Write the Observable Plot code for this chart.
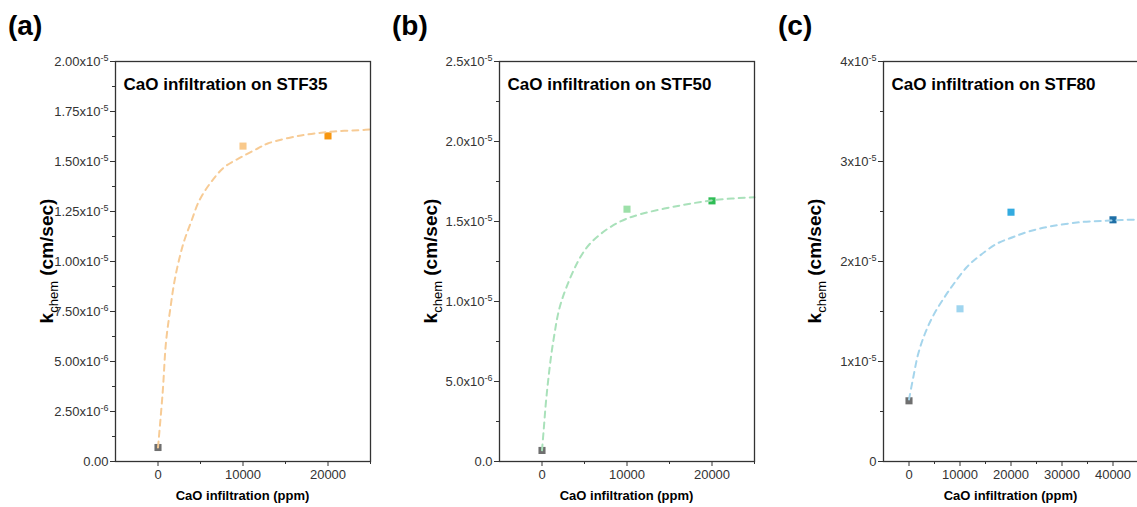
<!DOCTYPE html>
<html><head><meta charset="utf-8">
<script src="https://cdn.jsdelivr.net/npm/d3@7"></script>
<script src="https://cdn.jsdelivr.net/npm/@observablehq/plot@0.6"></script>
<style>
html,body{margin:0;padding:0;background:#fff;overflow:hidden;}
#wrap{position:relative;width:1137px;height:507px;overflow:hidden;font-family:"Liberation Sans",Arial,sans-serif;}
.panel{position:absolute;top:0;}
.panel svg{max-width:none !important;}
.plabel{position:absolute;top:10px;font-size:28px;font-weight:bold;color:#000;font-family:"Liberation Sans",Arial,sans-serif;}
</style></head><body><div id="wrap"></div>
<script>
// ---------- DATA ----------
const titles = ["CaO infiltration on STF35", "CaO infiltration on STF50", "CaO infiltration on STF80"];
const panelLetters = ["(a)", "(b)", "(c)"];
const xLabel = "CaO infiltration (ppm)";

// measured points (CaO ppm, k_chem cm/sec)
const ptsAx = [0, 10000, 20000];
const ptsAy = [0.07e-5, 1.577e-5, 1.628e-5];
const ptsBx = [0, 10000, 20000];
const ptsBy = [0.069e-5, 1.577e-5, 1.629e-5];
const ptsCx = [0, 10000, 20000, 40000];
const ptsCy = [0.607e-5, 1.527e-5, 2.493e-5, 2.417e-5];

// fitted dashed curves
const fitAx = [0, 553, 941, 1447, 1918, 2506, 3094, 3882, 4859, 6235, 7800, 9765, 11729, 12906, 16824, 20706, 24235, 25000];
const fitAy = [0.07e-5, 0.3465e-5, 0.5965e-5, 0.7635e-5, 0.8965e-5, 1.0135e-5, 1.105e-5, 1.1965e-5, 1.305e-5, 1.3965e-5, 1.4715e-5, 1.5215e-5, 1.565e-5, 1.59e-5, 1.63e-5, 1.65e-5, 1.658e-5, 1.66e-5];
const fitBx = [0, 188, 553, 1341, 2318, 4894, 6860, 9212, 11565, 16270, 20500, 25000];
const fitBy = [0.07e-5, 0.19e-5, 0.42e-5, 0.756e-5, 1.006e-5, 1.31e-5, 1.42e-5, 1.5e-5, 1.545e-5, 1.6e-5, 1.635e-5, 1.652e-5];
const fitCx = [0, 843, 1824, 3137, 4765, 6725, 8686, 11314, 13922, 17196, 20451, 23500, 27647, 33529, 39412, 45000];
const fitCy = [0.62e-5, 0.843e-5, 1.08e-5, 1.28e-5, 1.46e-5, 1.625e-5, 1.77e-5, 1.943e-5, 2.06e-5, 2.177e-5, 2.245e-5, 2.3e-5, 2.35e-5, 2.393e-5, 2.41e-5, 2.42e-5];

// ticks
const xTicksAB = [0, 10000, 20000];
const xMinorAB = [5000, 15000, 25000];
const xTicksC = [0, 10000, 20000, 30000, 40000];
const xMinorC = [5000, 15000, 25000, 35000];
const yTicksA = [0, 0.25e-5, 0.5e-5, 0.75e-5, 1e-5, 1.25e-5, 1.5e-5, 1.75e-5, 2e-5];
const yLabelsA = ["0.00", "2.50x10^-6", "5.00x10^-6", "7.50x10^-6", "1.00x10^-5", "1.25x10^-5", "1.50x10^-5", "1.75x10^-5", "2.00x10^-5"];
const yMinorA = [0.125e-5, 0.375e-5, 0.625e-5, 0.875e-5, 1.125e-5, 1.375e-5, 1.625e-5, 1.875e-5];
const yTicksB = [0, 0.5e-5, 1e-5, 1.5e-5, 2e-5, 2.5e-5];
const yLabelsB = ["0.0", "5.0x10^-6", "1.0x10^-5", "1.5x10^-5", "2.0x10^-5", "2.5x10^-5"];
const yMinorB = [0.25e-5, 0.75e-5, 1.25e-5, 1.75e-5, 2.25e-5];
const yTicksC = [0, 1e-5, 2e-5, 3e-5, 4e-5];
const yLabelsC = ["0", "1x10^-5", "2x10^-5", "3x10^-5", "4x10^-5"];
const yMinorC = [0.5e-5, 1.5e-5, 2.5e-5, 3.5e-5];

// ---------- STYLE / LAYOUT ----------
const FONT = "Liberation Sans, Arial, sans-serif";
const panels = [
  {left: 0, width: 380, ml: 115, mr: 10, xDomain: [-5000, 25000], yDomain: [0, 2e-5],
   xTicks: xTicksAB, xMinor: xMinorAB, yTicks: yTicksA, yLabels: yLabelsA, yMinor: yMinorA,
   px: ptsAx, py: ptsAy, fx: fitAx, fy: fitAy,
   colors: ["#6f6f6f", "#f9c98b", "#f7960f"], curve: "#f7cb95", letterX: 8},
  {left: 380, width: 380, ml: 119, mr: 6, xDomain: [-5000, 25000], yDomain: [0, 2.5e-5],
   xTicks: xTicksAB, xMinor: xMinorAB, yTicks: yTicksB, yLabels: yLabelsB, yMinor: yMinorB,
   px: ptsBx, py: ptsBy, fx: fitBx, fy: fitBy,
   colors: ["#6f6f6f", "#9de0a9", "#2fbd55"], curve: "#a9e1ba", letterX: 392},
  {left: 760, width: 380, ml: 123, mr: 2, xDomain: [-5000, 45000], yDomain: [0, 4e-5],
   xTicks: xTicksC, xMinor: xMinorC, yTicks: yTicksC, yLabels: yLabelsC, yMinor: yMinorC,
   px: ptsCx, py: ptsCy, fx: fitCx, fy: fitCy,
   colors: ["#6f6f6f", "#9fd5ef", "#33abe0", "#1e6fa6"], curve: "#a5d5ec", letterX: 778}
];
const H = 507, MT = 61, MB = 46;

const wrap = document.getElementById("wrap");

panels.forEach((cfg, k) => {
  const fmt = d => {
    const i = cfg.yTicks.findIndex(t => Math.abs(t - d) < 1e-12);
    return i >= 0 ? cfg.yLabels[i] : "";
  };
  const svg = Plot.plot({
    width: cfg.width, height: H,
    marginLeft: cfg.ml, marginRight: cfg.mr, marginTop: MT, marginBottom: MB,
    style: {fontFamily: FONT, fontSize: "13px", color: "#333", background: "transparent", overflow: "visible", maxWidth: "none"},
    x: {domain: cfg.xDomain, label: null},
    y: {domain: cfg.yDomain, label: null},
    marks: [
      Plot.axisX({ticks: cfg.xTicks, tickSize: 5, tickPadding: 3, tickFormat: d => String(d), label: null, stroke: "#333", fill: "#333"}),
      Plot.axisX({ticks: cfg.xMinor, tickSize: 3, tickFormat: () => "", label: null, stroke: "#333"}),
      Plot.axisY({ticks: cfg.yTicks, tickSize: 5, tickPadding: 2, tickFormat: fmt, label: null, stroke: "#333", fill: "#333"}),
      Plot.axisY({ticks: cfg.yMinor, tickSize: 3, tickFormat: () => "", label: null, stroke: "#333"}),
      Plot.dot(cfg.px, {x: cfg.px, y: cfg.py, symbol: "square", r: 4, fill: cfg.colors, stroke: "none"}),
      Plot.line(cfg.fx, {x: cfg.fx, y: cfg.fy, curve: "catmull-rom", stroke: cfg.curve, strokeWidth: 2, strokeDasharray: "6,5"}),
      Plot.frame({stroke: "#333", strokeWidth: 1.3}),
      Plot.text([titles[k]], {frameAnchor: "top-left", dx: 8, dy: 16, lineAnchor: "top", textAnchor: "start",
        fontSize: 17, fontWeight: "bold", fill: "#000"})
    ]
  });
  svg.style.maxWidth = "none";
  svg.style.width = cfg.width + "px";
  svg.style.height = H + "px";

  // superscript exponents in y tick labels
  svg.querySelectorAll('g[aria-label="y-axis tick label"] text').forEach(t => {
    const s = t.textContent;
    const j = s.indexOf("^");
    if (j >= 0) {
      t.textContent = s.slice(0, j);
      const ts = document.createElementNS("http://www.w3.org/2000/svg", "tspan");
      ts.setAttribute("dy", "-0.55em");
      ts.setAttribute("font-size", "9px");
      ts.textContent = s.slice(j + 1);
      t.appendChild(ts);
    }
  });

  const sel = d3.select(svg);
  // y label with subscript
  const cy = (MT + (H - MB)) / 2;
  const yl = sel.append("text")
    .attr("transform", `translate(${cfg.ml - 62},${cy}) rotate(-90)`)
    .attr("text-anchor", "middle").attr("fill", "#000")
    .style("font-family", FONT).style("white-space", "pre");
  yl.append("tspan").attr("font-size", 19).attr("font-weight", "bold").text("k");
  yl.append("tspan").attr("font-size", 13).attr("dy", 5).text("chem");
  yl.append("tspan").attr("font-size", 19).attr("font-weight", "bold").attr("dy", -5).text(" (cm/sec)");
  // x label
  sel.append("text")
    .attr("x", (cfg.ml + cfg.width - cfg.mr) / 2).attr("y", 500)
    .attr("text-anchor", "middle").attr("fill", "#000")
    .attr("font-size", 13).attr("font-weight", "bold")
    .style("font-family", FONT)
    .text(xLabel);

  const div = document.createElement("div");
  div.className = "panel";
  div.style.left = cfg.left + "px";
  div.style.width = cfg.width + "px";
  div.style.height = H + "px";
  div.appendChild(svg);
  wrap.appendChild(div);

  const lab = document.createElement("div");
  lab.className = "plabel";
  lab.style.left = cfg.letterX + "px";
  lab.textContent = panelLetters[k];
  wrap.appendChild(lab);
});
</script></body></html>
